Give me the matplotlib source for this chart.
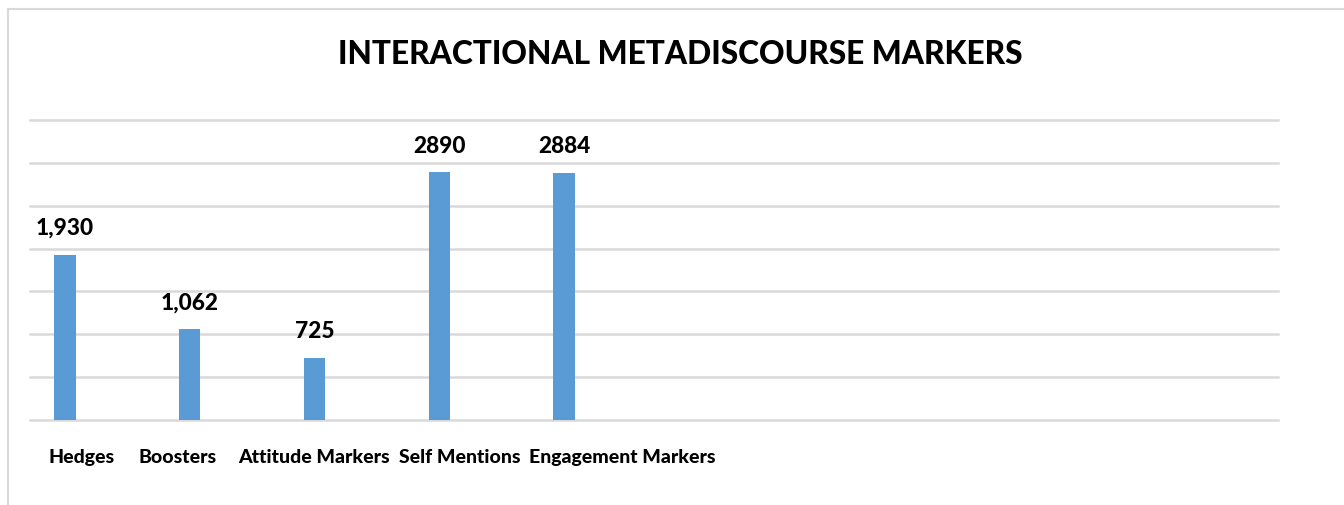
import matplotlib.pyplot as plt
import matplotlib.transforms as mtransforms
from matplotlib.lines import Line2D

categories = ["Hedges", "Boosters", "Attitude Markers", "Self Mentions", "Engagement Markers"]
counts = [1930, 1062, 725, 2890, 2884]
value_labels = ["1,930", "1,062", "725", "2890", "2884"]

# horizontal shift of each category label, in pixels (labels are not centred under bars)
label_shift_px = [17, -12, -1, 20, 58]

plt.rcParams['font.family'] = ['Lato', 'DejaVu Sans']
WEIGHT = 900

W, H = 1344, 506
fig = plt.figure(figsize=(W / 100, H / 100), dpi=100)
ax = fig.add_axes([30 / W, (H - 421) / H, 1248 / W, 300 / H])

x = list(range(len(categories)))
ax.bar(x, counts, width=0.172, color='#5B9BD5', zorder=3)
ax.set_xlim(-0.28, 9.72)
ax.set_ylim(0, 3500)
ax.set_yticks(range(0, 3501, 500))
ax.yaxis.grid(True, color='#d9d9d9', linewidth=1.8)
for gl in ax.yaxis.get_gridlines():
    gl.set_clip_on(False)
ax.set_axisbelow(True)
ax.tick_params(left=False, labelleft=False, bottom=False, pad=17)
for s in ax.spines.values():
    s.set_visible(False)

ax.set_xticks(x)
ax.set_xticklabels(categories, fontsize=14, fontweight=WEIGHT, color='black')
for lab, dx in zip(ax.get_xticklabels(), label_shift_px):
    lab.set_transform(lab.get_transform() + mtransforms.ScaledTranslation(dx / 100, 0, fig.dpi_scale_trans))

for xi, v, txt in zip(x, counts, value_labels):
    ax.annotate(txt, (xi, v), xytext=(0, 19.5), textcoords='offset points',
                ha='center', va='center', fontsize=16.3, fontweight=WEIGHT, color='black')

fig.text(680 / W, 1 - 54 / H, "INTERACTIONAL METADISCOURSE MARKERS",
         ha='center', va='center', fontsize=22.8, fontweight=WEIGHT, color='black')

# chart frame (top and left edges visible)
fig.add_artist(Line2D([8 / W, 8 / W], [0, 1 - 10 / H], transform=fig.transFigure, color='#d9d9d9', linewidth=1.5))
fig.add_artist(Line2D([8 / W, 1], [1 - 10 / H, 1 - 10 / H], transform=fig.transFigure, color='#d9d9d9', linewidth=1.5))

fig.savefig("out.png", dpi=100)
